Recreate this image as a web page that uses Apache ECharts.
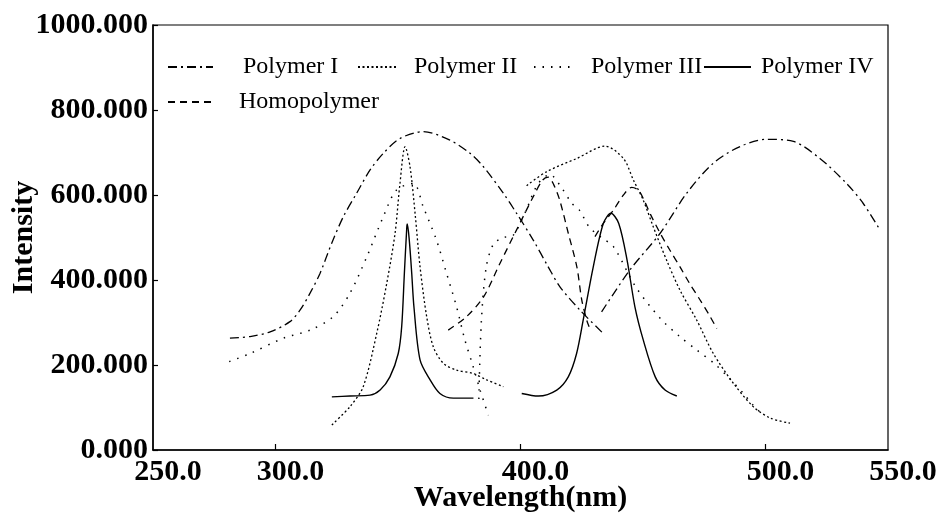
<!DOCTYPE html>
<html>
<head>
<meta charset="utf-8">
<script src="https://cdn.jsdelivr.net/npm/echarts@6/dist/echarts.min.js"></script>
<style>
  html, body { margin: 0; padding: 0; background: #fff; }
  #chart { width: 941px; height: 517px; }
</style>
</head>
<body>
<div id="chart"></div>
<script>
// Emission / excitation spectra: [wavelength (nm), intensity]
const polymerIA = [[281.4,263],[289.6,267],[297.8,278],[305.9,302],[310,329],[314.1,369],[318.2,416],[322.9,486],[327.7,549],[333.1,604],[338.6,659],[344,698],[350.8,733],[360.3,749],[371.2,729],[379.4,698],[384.8,667],[393,604],[398.4,557],[405.2,494],[411.3,431],[416.1,384],[424.3,329],[433.8,274]];
const polymerIB = [[433.1,325],[444.7,424],[457,510],[467.8,604],[478.7,675],[489.6,714],[500.5,731],[511.4,726],[522.2,686],[533.1,627],[539.9,580],[546.7,518]];
const polymerIIA = [[323,59],[330.4,102],[335.8,149],[341.3,274],[345.4,392],[348.8,510],[350.8,627],[352.9,714],[354.9,667],[357.1,549],[359,431],[361.7,314],[364.4,243],[368.5,204],[373.9,188],[380.7,180],[386.2,165],[393,149]];
const polymerIIB = [[402.5,622],[410.7,655],[423,686],[434.5,715],[442,686],[446.1,635],[450.1,588],[454.2,525],[459.6,447],[465.1,376],[471.9,306],[478.7,227],[486.9,157],[495,102],[502,75],[510,63]];
const polymerIIIA = [[281.1,208],[289.6,227],[303.2,263],[314.1,282],[323.6,314],[330.4,369],[337.3,455],[344,549],[349.4,612],[356.3,627],[360.3,572],[365.7,494],[369.8,416],[373.9,337],[377.3,259],[380.7,196],[383.5,141],[386.9,82]];
const polymerIIIB = [[383,120],[384,300],[386,430],[389,485],[393,500],[397,505],[402,560],[407,625],[412,648],[417,615],[421,580],[424,565],[428,525],[433,500],[438,478],[447,384],[457,310],[465,267],[472,235],[479,204],[485,170],[491,133],[495,105],[499,82]];
const polymerIVA = [[323,125],[330.4,127],[338.6,129],[342.7,141],[346.7,172],[350.1,227],[351.5,290],[352.6,416],[353.6,525],[353.8,532],[354.6,494],[355.6,416],[356.5,337],[359,212],[363.1,165],[367.1,133],[372.6,122],[380.8,122]];
const polymerIVB = [[400.5,133],[407.3,127],[414.8,141],[419.5,172],[422.9,227],[425.6,306],[429.7,431],[433.8,533],[436.9,557],[440.1,533],[443.5,447],[446.7,337],[450.1,259],[455,172],[459,141],[463.8,127]];
const homopolymerA = [[370.5,282],[378,314],[385,361],[391.6,439],[398.4,518],[405.2,596],[409,635],[411.3,642],[413.5,625],[416,588],[419.5,510],[423,431],[425,353],[427,306],[428,290]];
const homopolymerB = [[430.4,502],[434,535],[438,565],[442,600],[445.4,618],[448,612],[450.1,592],[453,555],[457,510],[461,470],[465.1,431],[469,392],[473.3,353],[477,318],[480.1,286]];

// Axis tick values
const xLabelValues = [250, 300, 400, 500, 550];
const xTickValues = [300, 400, 500];

const FONT = 'Liberation Serif';
const INK = '#000';

const styles = {
  'Polymer I':   { type: [9, 4, 2, 4], width: 1.3 },
  'Polymer II':  { type: [2, 2.5], width: 1.3 },
  'Polymer III': { type: [1.5, 7], width: 1.5 },
  'Polymer IV':  { type: 'solid', width: 1.4 },
  'Homopolymer': { type: [7, 5], width: 1.3 }
};

function spectrum(name, data) {
  return {
    name: name,
    type: 'line',
    data: data,
    symbol: 'none',
    smooth: 0.3,
    silent: true,
    lineStyle: Object.assign({ color: INK }, styles[name]),
    itemStyle: { color: INK }
  };
}

// one legend per entry so each sample/label sits where it belongs
function legendEntry(name, left, top, iconW, textGap) {
  return {
    data: [name],
    left: left,
    top: top,
    itemWidth: iconW,
    itemHeight: 14,
    padding: 0,
    selectedMode: false,
    itemStyle: { opacity: 0 },
    textStyle: {
      fontFamily: FONT, fontSize: 24, color: INK,
      padding: [0, 0, 0, textGap]
    }
  };
}

const chart = echarts.init(document.getElementById('chart'), null, { renderer: 'canvas' });
chart.setOption({
  animation: false,
  backgroundColor: '#fff',
  grid: {
    left: 153, top: 25, right: 53, bottom: 67,
    outerBoundsMode: 'none',
    show: true, borderColor: INK, borderWidth: 1.2, backgroundColor: 'transparent'
  },
  legend: [
    legendEntry('Polymer I', 167, 55, 45, 25),
    legendEntry('Polymer II', 357, 55, 38, 13),
    legendEntry('Polymer III', 533, 55, 39, 13),
    legendEntry('Polymer IV', 703, 55, 47, 5),
    legendEntry('Homopolymer', 167, 90, 45, 21)
  ],
  xAxis: {
    type: 'value',
    min: 250, max: 550, interval: 50,
    name: 'Wavelength(nm)',
    nameLocation: 'middle',
    nameGap: 33,
    nameMoveOverlap: false,
    nameTextStyle: { fontFamily: FONT, fontSize: 30, fontWeight: 'bold', color: INK },
    axisLine: { show: true, lineStyle: { color: INK, width: 1.5 } },
    axisTick: { show: true, inside: true, length: 6, customValues: xTickValues, lineStyle: { color: INK, width: 1.2 } },
    axisLabel: {
      customValues: xLabelValues,
      formatter: v => v.toFixed(1),
      fontFamily: FONT, fontSize: 30, fontWeight: 'bold', color: INK,
      margin: 7, padding: [0, 0, 0, 30]
    },
    splitLine: { show: false }
  },
  yAxis: {
    type: 'value',
    min: 0, max: 1000, interval: 200,
    name: 'Intensity',
    nameLocation: 'middle',
    nameGap: 114,
    nameMoveOverlap: false,
    nameTextStyle: { fontFamily: FONT, fontSize: 30, fontWeight: 'bold', color: INK },
    axisLine: { show: true, lineStyle: { color: INK, width: 1.5 } },
    axisTick: { show: true, inside: true, length: 5, lineStyle: { color: INK, width: 1.2 } },
    axisLabel: {
      formatter: v => v.toFixed(3),
      fontFamily: FONT, fontSize: 30, fontWeight: 'bold', color: INK,
      margin: 5
    },
    splitLine: { show: false }
  },
  series: [
    spectrum('Polymer I', polymerIA),
    spectrum('Polymer I', polymerIB),
    spectrum('Polymer II', polymerIIA),
    spectrum('Polymer II', polymerIIB),
    spectrum('Polymer III', polymerIIIA),
    spectrum('Polymer III', polymerIIIB),
    spectrum('Polymer IV', polymerIVA),
    spectrum('Polymer IV', polymerIVB),
    spectrum('Homopolymer', homopolymerA),
    spectrum('Homopolymer', homopolymerB)
  ]
});
</script>
</body>
</html>
